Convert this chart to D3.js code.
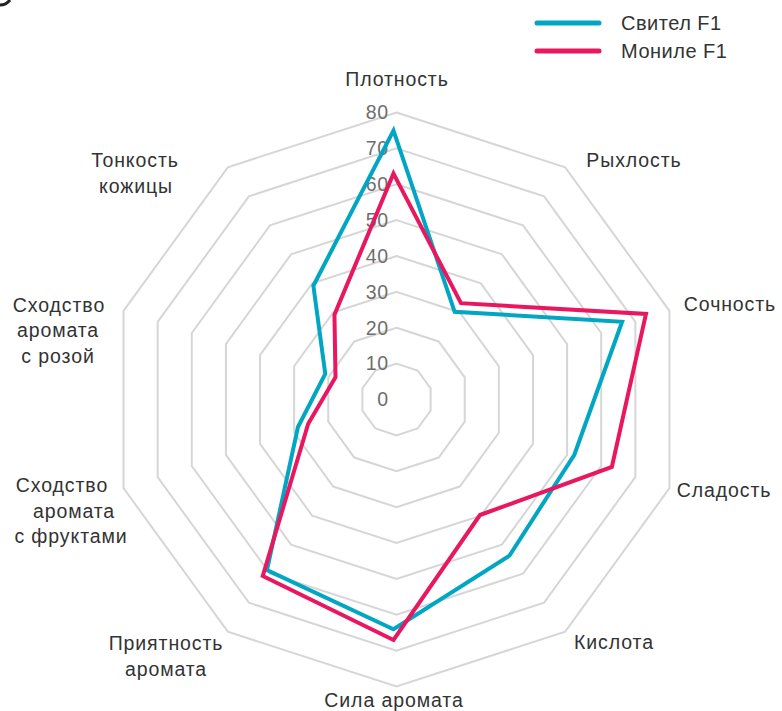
<!DOCTYPE html>
<html lang="ru">
<head>
<meta charset="UTF-8">
<title>Radar chart</title>
<script src="https://d3js.org/d3.v7.min.js"></script>
<style>
  body { margin: 0; background: #fff; }
  svg text { font-family: "Liberation Sans", Arial, sans-serif; }
  .axis-label { font-size: 19.5px; fill: #333; letter-spacing: 0.9px; }
  .tick-label { font-size: 19.5px; fill: #6e6e6e; text-anchor: end; letter-spacing: 0.5px; }
  .legend-label { font-size: 20px; fill: #333; letter-spacing: 0.5px; }
</style>
</head>
<body>
<svg id="chart" width="782" height="711"></svg>
<script>
// axis names (line breaks as in the picture)
const categories = [
  "Плотность", "Рыхлость", "Сочность", "Сладость", "Кислота",
  "Сила аромата", "Приятность\nаромата", "Сходство\nаромата\nс фруктами",
  "Сходство\nаромата\nс розой", "Тонкость\nкожицы"
];
const seriesNames = ["Свител F1", "Мониле F1"];
const svitelValues = [74, 29, 67, 53, 55, 65, 60, 28, 20, 38];
const monileValues = [62, 32, 74, 64, 41, 68, 62, 25, 17, 28];
const tickValues = [0, 10, 20, 30, 40, 50, 60, 70, 80];

const colors = ["#00a6c2", "#e8175f"];

const width = 782, height = 711;
const cx = 396.5, cy = 399.5, R = 287;

// hand placed label spots: per line [x center, baseline]
const labelSpots = [
  [[397, 86]],
  [[634, 167]],
  [[730, 311]],
  [[724, 497]],
  [[614, 649]],
  [[394, 707]],
  [[166, 650], [166, 676]],
  [[62, 492], [74, 518], [71, 543]],
  [[59, 312], [58, 337], [58, 363]],
  [[135, 167], [136, 193]]
];

const svg = d3.select("#chart");

const r = d3.scaleLinear().domain([0, 80]).range([0, R]);
const n = categories.length;
const angle = i => i * 2 * Math.PI / n;

const g = svg.append("g").attr("transform", `translate(${cx},${cy})`);

// grid rings
const ring = d3.lineRadial()
  .angle((d, i) => angle(i))
  .radius(d => r(d))
  .curve(d3.curveLinearClosed);

tickValues.filter(t => t > 0).forEach(t => {
  g.append("path")
    .attr("d", ring(d3.range(n).map(() => t)))
    .attr("fill", "none")
    .attr("stroke", "#d6d6d6")
    .attr("stroke-width", 2);
});

// tick labels along the top axis
g.selectAll(".tick-label")
  .data(tickValues)
  .enter().append("text")
  .attr("class", "tick-label")
  .attr("x", -8)
  .attr("y", d => -r(d))
  .attr("dy", "0.35em")
  .text(d => d);

// series (slightly offset like the original artwork)
const line = d3.lineRadial()
  .angle((d, i) => angle(i))
  .radius(d => r(d))
  .curve(d3.curveLinearClosed);

const sg = svg.append("g").attr("transform", `translate(${cx - 3},${cy - 3.5})`);
[svitelValues, monileValues].forEach((vals, k) => {
  sg.append("path")
    .attr("d", line(vals))
    .attr("fill", "none")
    .attr("stroke", colors[k])
    .attr("stroke-width", 4)
    .attr("stroke-linejoin", "miter");
});

// axis labels
categories.forEach((name, i) => {
  name.split("\n").forEach((txt, j) => {
    const [x, y] = labelSpots[i][j];
    svg.append("text")
      .attr("class", "axis-label")
      .attr("x", x)
      .attr("y", y)
      .attr("text-anchor", "middle")
      .text(txt);
  });
});

// legend
const legend = svg.append("g");
seriesNames.forEach((name, k) => {
  const y = 23 + k * 28;
  legend.append("line")
    .attr("x1", 537).attr("x2", 599)
    .attr("y1", y).attr("y2", y)
    .attr("stroke", colors[k])
    .attr("stroke-width", 5)
    .attr("stroke-linecap", "round");
  legend.append("text")
    .attr("class", "legend-label")
    .attr("x", 621)
    .attr("y", y)
    .attr("dy", "0.36em")
    .text(name);
});

// cropped glyph fragment in the top-left corner
svg.append("path")
  .attr("d", "M0,5 Q6,5 10,0")
  .attr("fill", "none")
  .attr("stroke", "#222")
  .attr("stroke-width", 3);
</script>
</body>
</html>
